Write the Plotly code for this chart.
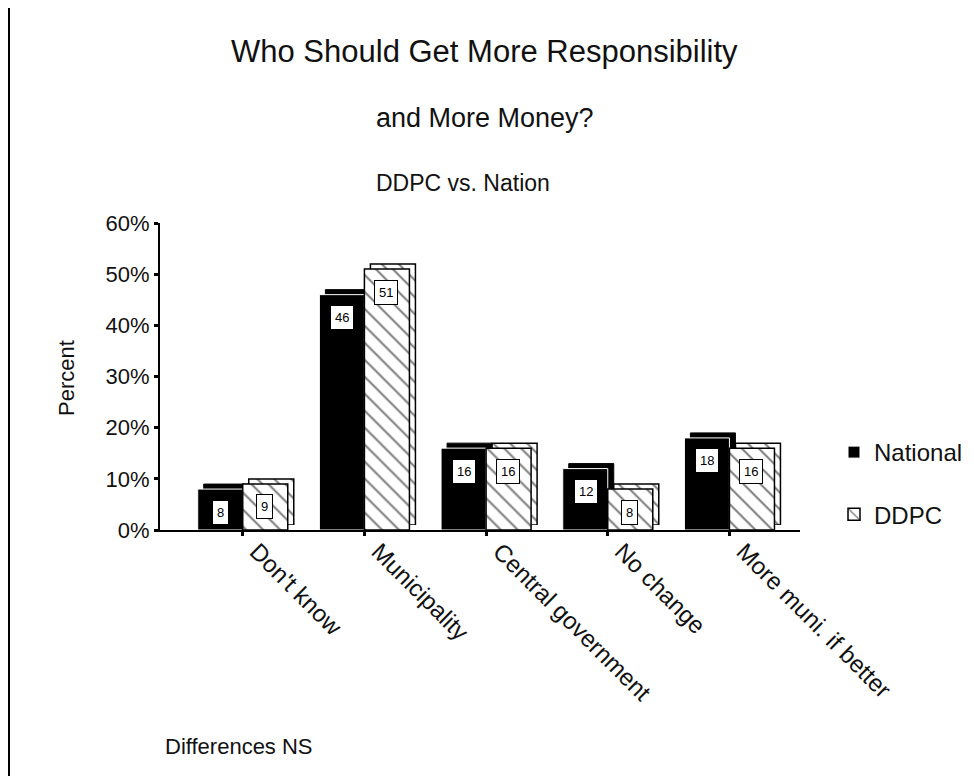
import plotly.graph_objects as go

categories = ["Don't know", "Municipality", "Central government", "No change", "More muni. if better"]
national = [8, 46, 16, 12, 18]
ddpc = [9, 51, 16, 8, 16]
y_ticks = [0, 10, 20, 30, 40, 50, 60]
y_ticktext = [f"{v}%" for v in y_ticks]

OFF = 8  # page body margin in the browser
W, H = 974 - OFF, 776 - OFF
L, T, B = 160 - OFF, 218 - OFF, 246
pw = 646
R = W - L - pw
ph = H - T - B
dx, dy = 6, 5
front_x = [0, (pw - dx) / pw]
back_x = [dx / pw, 1]
front_y = [0, (ph - dy) / ph]
back_y = [dy / ph, 1]
xr = [-0.68, 4.58]

FONT = "Liberation Sans, Arial, sans-serif"
TXT = "#111"


def px_x(p):
    return (p - OFF - L) / pw


def px_y(p):
    return (H - B - (p - OFF)) / ph


def hatch():
    return dict(shape="\\", size=12, solidity=0.17, fgcolor="black", bgcolor="white")


fig = go.Figure()
# depth (back faces)
fig.add_trace(go.Bar(x=categories, y=national, xaxis="x", yaxis="y", showlegend=False, hoverinfo="skip",
                     marker=dict(color="black", line=dict(color="black", width=1))))
fig.add_trace(go.Bar(x=categories, y=ddpc, xaxis="x", yaxis="y", showlegend=False, hoverinfo="skip",
                     marker=dict(color="white", pattern=hatch(), line=dict(color="black", width=1.5))))
# front faces
fig.add_trace(go.Bar(x=categories, y=national, xaxis="x2", yaxis="y2", name="National", legendgroup="nat",
                     marker=dict(color="black", line=dict(color="white", width=1))))
fig.add_trace(go.Bar(x=categories, y=ddpc, xaxis="x2", yaxis="y2", name="DDPC", legendgroup="ddpc",
                     marker=dict(color="white", pattern=hatch(), line=dict(color="black", width=1.5))))

annotations = []
for c, v in zip(categories, national):
    annotations.append(dict(x=c, y=v, xref="x2", yref="y2", text=str(v), showarrow=False,
                            xshift=-22, yshift=-23, font=dict(size=13, color="black", family=FONT),
                            bgcolor="white", bordercolor="black", borderwidth=1, borderpad=4))
for c, v in zip(categories, ddpc):
    annotations.append(dict(x=c, y=v, xref="x2", yref="y2", text=str(v), showarrow=False,
                            xshift=22, yshift=-23, font=dict(size=13, color="black", family=FONT),
                            bgcolor="white", bordercolor="black", borderwidth=1, borderpad=4))

annotations += [
    dict(x=px_x(484), y=px_y(52), xref="paper", yref="paper", text="Who Should Get More Responsibility",
         xanchor="center", yanchor="middle", showarrow=False, font=dict(size=31, family=FONT, color=TXT)),
    dict(x=px_x(485), y=px_y(118), xref="paper", yref="paper", text="and More Money?",
         xanchor="center", yanchor="middle", showarrow=False, font=dict(size=27, family=FONT, color=TXT)),
    dict(x=px_x(463), y=px_y(183), xref="paper", yref="paper", text="DDPC vs. Nation",
         xanchor="center", yanchor="middle", showarrow=False, font=dict(size=23, family=FONT, color=TXT)),
    dict(x=px_x(66), y=px_y(378), xref="paper", yref="paper", text="Percent", textangle=-90,
         xanchor="center", yanchor="middle", showarrow=False, font=dict(size=22, family=FONT, color=TXT)),
    dict(x=px_x(163), y=px_y(746), xref="paper", yref="paper", text="Differences NS", xanchor="left",
         yanchor="middle", showarrow=False, font=dict(size=22, family=FONT, color=TXT)),
]

fig.update_layout(
    width=W, height=H,
    margin=dict(l=L, r=R, t=T, b=B, autoexpand=False),
    paper_bgcolor="white", plot_bgcolor="rgba(0,0,0,0)",
    barmode="group", bargap=0.26, bargroupgap=0,
    font=dict(family=FONT, color=TXT),
    xaxis=dict(domain=back_x, range=xr, type="category", visible=False, fixedrange=True),
    yaxis=dict(domain=back_y, range=[0, 60], visible=False, fixedrange=True),
    xaxis2=dict(domain=front_x, anchor="y2", range=xr, type="category", showline=True, linecolor="black",
                linewidth=2, ticks="outside", ticklen=4, tickwidth=3, tickcolor="black", tickangle=45,
                ticklabelshift=14, ticklabelstandoff=-8, tickfont=dict(size=24, family=FONT, color=TXT),
                showgrid=False, zeroline=False),
    yaxis2=dict(domain=front_y, anchor="x2", range=[0, 60], tickmode="array", tickvals=y_ticks,
                ticktext=y_ticktext, showline=True, linecolor="black", linewidth=2, ticks="outside",
                ticklen=4, tickwidth=3, tickcolor="black", tickfont=dict(size=22, family=FONT, color=TXT),
                showgrid=False, zeroline=False),
    legend=dict(x=px_x(834), y=px_y(430), xanchor="left", yanchor="top", font=dict(size=24, family=FONT),
                tracegroupgap=28, traceorder="grouped", bgcolor="rgba(0,0,0,0)"),
    annotations=annotations,
    shapes=[dict(type="line", xref="paper", yref="paper", x0=px_x(9), x1=px_x(9), y0=px_y(4), y1=px_y(776),
                 line=dict(color="black", width=2))],
    showlegend=True,
)

fig.write_html("out.html")
